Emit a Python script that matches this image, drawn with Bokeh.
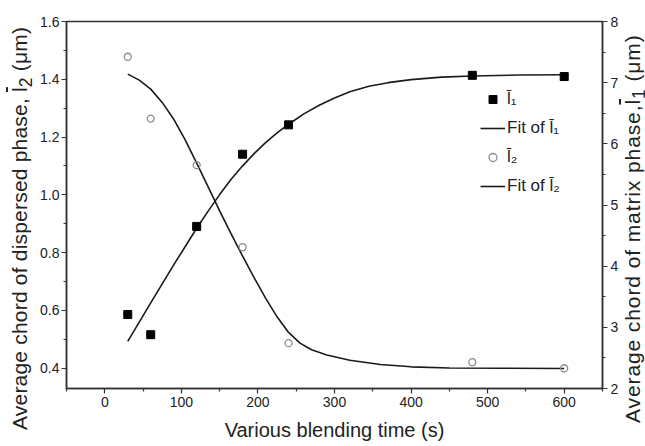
from bokeh.plotting import figure
from bokeh.layouts import row
from bokeh.models import (Range1d, LinearAxis, FixedTicker, Legend, LegendItem,
                          ColumnDataSource, PrintfTickFormatter, Div)
from bokeh.embed import file_html
from bokeh.resources import INLINE

# ---- data ----
time_s = [30, 60, 120, 180, 240, 480, 600]
l1_matrix = [3.21, 2.88, 4.65, 5.83, 6.31, 7.12, 7.10]        # right axis (um)
l2_dispersed = [1.478, 1.264, 1.103, 0.819, 0.487, 0.421, 0.400]  # left axis (um)

# fit curves
fit1_x = [30, 60, 90, 120, 135, 150, 165, 180, 195, 210, 225, 240, 260, 280, 300,
          320, 345, 370, 400, 440, 480, 540, 600]
fit1_y = [2.77, 3.40, 4.02, 4.62, 4.90, 5.17, 5.42, 5.64, 5.84, 6.02, 6.18, 6.32, 6.49, 6.63,
          6.75, 6.85, 6.94, 7.00, 7.05, 7.09, 7.11, 7.125, 7.13]

fit2_x = [30, 45, 60, 75, 90, 105, 120, 135, 150, 165, 180, 195, 210, 225, 240, 255,
          270, 290, 320, 360, 400, 450, 520, 600]
fit2_y = [1.418, 1.397, 1.366, 1.320, 1.262, 1.190, 1.110, 1.028, 0.945, 0.865, 0.788,
          0.714, 0.643, 0.578, 0.524, 0.487, 0.464, 0.446, 0.428, 0.413, 0.405, 0.401,
          0.400, 0.399]

x_ticks = [0, 100, 200, 300, 400, 500, 600]
x_minor = [-50, 50, 150, 250, 350, 450, 550, 650]
left_ticks = [0.4, 0.6, 0.8, 1.0, 1.2, 1.4, 1.6]
left_minor = [0.5, 0.7, 0.9, 1.1, 1.3, 1.5]
right_ticks = [2, 3, 4, 5, 6, 7, 8]
right_minor = [2.5, 3.5, 4.5, 5.5, 6.5, 7.5]

x_title = "Various blending time (s)"
L_BAR = '<span style="text-decoration:overline">l</span>'
SUB = '<sub style="line-height:0;">{}</sub>'
left_title_html = "Average chord of dispersed phase, " + L_BAR + SUB.format("2") + " (\u03bcm)"
right_title_html = "Average chord of matrix phase," + L_BAR + SUB.format("1") + " (\u03bcm)"

FONT = "Liberation Sans"
TXT = "#222222"
AX = "#333333"
H = 446
WL, WR = 32, 23

p = figure(width=645 - WL - WR, height=H, output_backend="svg", toolbar_location=None,
           x_range=Range1d(-50, 650), y_range=Range1d(0.33, 1.6),
           min_border_left=66 - WL, min_border_right=43 - WR, min_border_top=21,
           min_border_bottom=58)
p.extra_y_ranges = {"right": Range1d(2, 8)}
p.xgrid.visible = False
p.ygrid.visible = False
p.outline_line_color = AX
p.outline_line_width = 1.5
p.background_fill_color = "white"
p.border_fill_color = "white"

def style(ax, ticks, minor):
    ax.ticker = FixedTicker(ticks=ticks, minor_ticks=minor)
    ax.axis_line_color = AX
    ax.axis_line_width = 1.5
    ax.major_tick_line_color = AX
    ax.minor_tick_line_color = AX
    ax.major_tick_line_width = 1.2
    ax.minor_tick_line_width = 1.2
    ax.major_tick_in = 0
    ax.major_tick_out = 5
    ax.minor_tick_in = 0
    ax.minor_tick_out = 3
    ax.major_label_text_font = FONT
    ax.major_label_text_font_size = "14px"
    ax.major_label_text_color = TXT
    ax.axis_label_text_font = FONT
    ax.axis_label_text_font_size = "20px"
    ax.axis_label_text_font_style = "normal"
    ax.axis_label_text_color = TXT

xa = p.xaxis[0]
style(xa, x_ticks, x_minor)
xa.axis_label = x_title
xa.major_label_standoff = 3
xa.axis_label_standoff = 9

ya = p.yaxis[0]
style(ya, left_ticks, left_minor)
ya.formatter = PrintfTickFormatter(format="%.1f")
ya.major_label_standoff = 2

ra = LinearAxis(y_range_name="right")
style(ra, right_ticks, right_minor)
ra.major_label_standoff = 3
p.add_layout(ra, "right")

src1 = ColumnDataSource(dict(x=time_s, y=l1_matrix))
src2 = ColumnDataSource(dict(x=time_s, y=l2_dispersed))

f1 = p.line(fit1_x, fit1_y, y_range_name="right", line_color="#1a1a1a", line_width=1.6)
f2 = p.line(fit2_x, fit2_y, line_color="#1a1a1a", line_width=1.6)
s1 = p.scatter("x", "y", source=src1, y_range_name="right", marker="square", size=8,
               fill_color="black", line_color="black")
s2 = p.scatter("x", "y", source=src2, marker="circle", size=7, fill_color=None,
               line_color="#8c8c8c", line_width=1.3)

legend = Legend(items=[
    LegendItem(label="l\u0304\u2081", renderers=[s1]),
    LegendItem(label="Fit of l\u0304\u2081", renderers=[f1]),
    LegendItem(label="l\u0304\u2082", renderers=[s2]),
    LegendItem(label="Fit of l\u0304\u2082", renderers=[f2]),
], location=(414, 192))
legend.border_line_color = None
legend.background_fill_alpha = 0
legend.padding = 0
legend.margin = 0
legend.spacing = 9
legend.glyph_width = 25
legend.glyph_height = 20
legend.label_height = 20
legend.label_standoff = 2
legend.label_text_font = FONT
legend.label_text_font_size = "17px"
legend.label_text_color = TXT
p.add_layout(legend, "center")

# side strips carrying the vertical axis titles (both read bottom-to-top)
def side_strip(width, html, left, top, spacing):
    inner = (
        f'<div style="position:relative;width:{width}px;height:{H}px;overflow:visible;">'
        f'<div style="position:absolute;left:{left}px;top:{top}px;transform-origin:0 0;'
        f'transform:rotate(-90deg);white-space:nowrap;font-family:\'{FONT}\';'
        f'font-size:21px;line-height:21px;letter-spacing:{spacing}px;color:{TXT};">'
        f'{html}</div></div>'
    )
    return Div(text=inner, width=width, height=H, margin=0)

left_strip = side_strip(WL, left_title_html, 9, 430, 0.2)
right_strip = side_strip(WR, right_title_html, 0, 423, 0.9)

layout = row(left_strip, p, right_strip, spacing=0)
open("out.html", "w").write(file_html(layout, INLINE))
